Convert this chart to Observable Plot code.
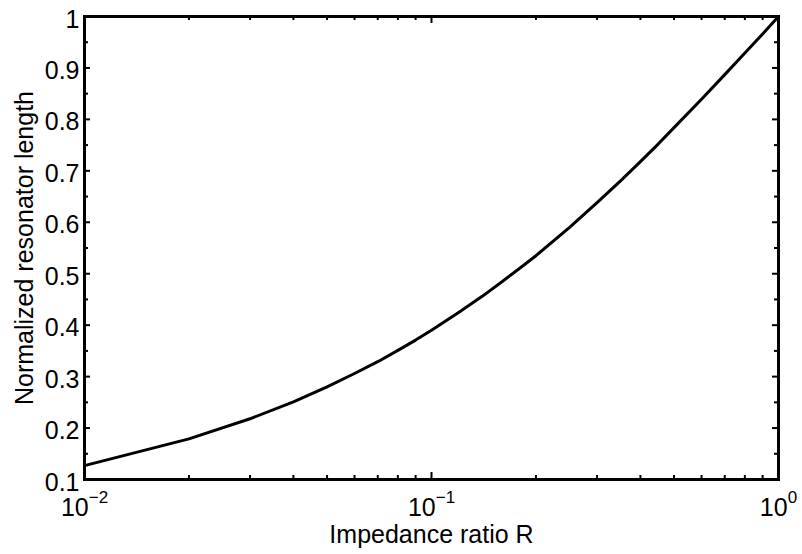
<!DOCTYPE html>
<html>
<head>
<meta charset="utf-8">
<script src="https://cdn.jsdelivr.net/npm/d3@7"></script>
<script src="https://cdn.jsdelivr.net/npm/@observablehq/plot@0.6"></script>
<style>
  html, body { margin: 0; padding: 0; background: #fff; }
  #chart svg { display: block; font-family: "Liberation Sans", Arial, Helvetica, sans-serif; }
</style>
</head>
<body>
<div id="chart"></div>
<script>
// Data
const ratioR = [0.01, 0.02, 0.03, 0.04, 0.05, 0.06, 0.07, 0.08, 0.09,
                0.1, 0.12, 0.14, 0.16, 0.18, 0.2, 0.25, 0.3, 0.35, 0.4, 0.45,
                0.5, 0.6, 0.7, 0.8, 0.9, 1];
const normLength = [0.127, 0.179, 0.218, 0.251, 0.280, 0.306, 0.329, 0.351, 0.371,
                    0.390, 0.425, 0.456, 0.485, 0.511, 0.535, 0.590, 0.638, 0.680, 0.718, 0.752,
                    0.784, 0.839, 0.887, 0.929, 0.966, 1.0];

const xMajorTicks = [0.01, 0.1, 1];
const xMajorLabels = ["10^−2", "10^−1", "10^0"];
const xMinorTicks = [0.02, 0.03, 0.04, 0.05, 0.06, 0.07, 0.08, 0.09,
                     0.2, 0.3, 0.4, 0.5, 0.6, 0.7, 0.8, 0.9];
const yMajorTicks = [0.1, 0.2, 0.3, 0.4, 0.5, 0.6, 0.7, 0.8, 0.9, 1];
const yMajorLabels = ["0.1", "0.2", "0.3", "0.4", "0.5", "0.6", "0.7", "0.8", "0.9", "1"];
const yMinorTicks = [0.15, 0.25, 0.35, 0.45, 0.55, 0.65, 0.75, 0.85, 0.95];

const xLabel = "Impedance ratio R";
const yLabel = "Normalized resonator length";

const curve = ratioR.map((r, i) => ({r, v: normLength[i]}));
const xMaj = xMajorTicks.map((t, i) => ({t, label: xMajorLabels[i]}));
const yMaj = yMajorTicks.map((t, i) => ({t, label: yMajorLabels[i]}));

const W = 802, H = 554, mL = 84, mR = 24, mT = 16, mB = 75;
const pw = W - mL - mR, ph = H - mT - mB;
const fs = 25;

const chart = Plot.plot({
  width: W, height: H,
  marginLeft: mL, marginRight: mR, marginTop: mT, marginBottom: mB,
  style: {fontFamily: '"Liberation Sans", Arial, sans-serif', background: "#fff", overflow: "visible"},
  x: {type: "log", domain: [0.01, 1], axis: null},
  y: {domain: [0.1, 1], axis: null},
  marks: [
    // x ticks, inward, bottom & top
    Plot.tickX(xMajorTicks, {x: d => d, insetTop: ph - 7, stroke: "black", strokeWidth: 2}),
    Plot.tickX(xMajorTicks, {x: d => d, insetBottom: ph - 7, stroke: "black", strokeWidth: 2}),
    Plot.tickX(xMinorTicks, {x: d => d, insetTop: ph - 4, stroke: "black", strokeWidth: 2}),
    Plot.tickX(xMinorTicks, {x: d => d, insetBottom: ph - 4, stroke: "black", strokeWidth: 2}),
    // y ticks, inward, left & right
    Plot.tickY(yMajorTicks, {y: d => d, insetRight: pw - 6, stroke: "black", strokeWidth: 2}),
    Plot.tickY(yMajorTicks, {y: d => d, insetLeft: pw - 6, stroke: "black", strokeWidth: 2}),
    Plot.tickY(yMinorTicks, {y: d => d, insetRight: pw - 4, stroke: "black", strokeWidth: 2}),
    Plot.tickY(yMinorTicks, {y: d => d, insetLeft: pw - 4, stroke: "black", strokeWidth: 2}),
    Plot.frame({stroke: "black", strokeWidth: 3}),
    Plot.line(curve, {x: "r", y: "v", stroke: "black", strokeWidth: 3}),
    // tick labels
    Plot.text(yMaj, {y: "t", text: "label", frameAnchor: "left", textAnchor: "end", lineAnchor: "middle", dx: -5, dy: 3, fontSize: fs, fill: "black"}),
    Plot.text(xMaj, {x: "t", text: "label", frameAnchor: "bottom", textAnchor: "middle", lineAnchor: "middle", dy: 28, fontSize: fs, fill: "black"}),
    // axis titles
    Plot.text([xLabel], {text: d => d, frameAnchor: "bottom", textAnchor: "middle", lineAnchor: "middle", dy: 55, fontSize: fs, fill: "black"}),
    Plot.text([yLabel], {text: d => d, frameAnchor: "left", textAnchor: "middle", lineAnchor: "middle", dx: -60, rotate: -90, fontSize: fs, fill: "black"})
  ]
});

// turn "10^e" labels into base + superscript exponent
chart.querySelectorAll("text").forEach(t => {
  const m = /^10\^(.+)$/.exec(t.textContent);
  if (m) {
    t.textContent = "10";
    const sp = document.createElementNS("http://www.w3.org/2000/svg", "tspan");
    sp.setAttribute("dy", "-13");
    sp.setAttribute("font-size", "17");
    sp.textContent = m[1];
    t.appendChild(sp);
  }
});

document.getElementById("chart").appendChild(chart);
</script>
</body>
</html>
